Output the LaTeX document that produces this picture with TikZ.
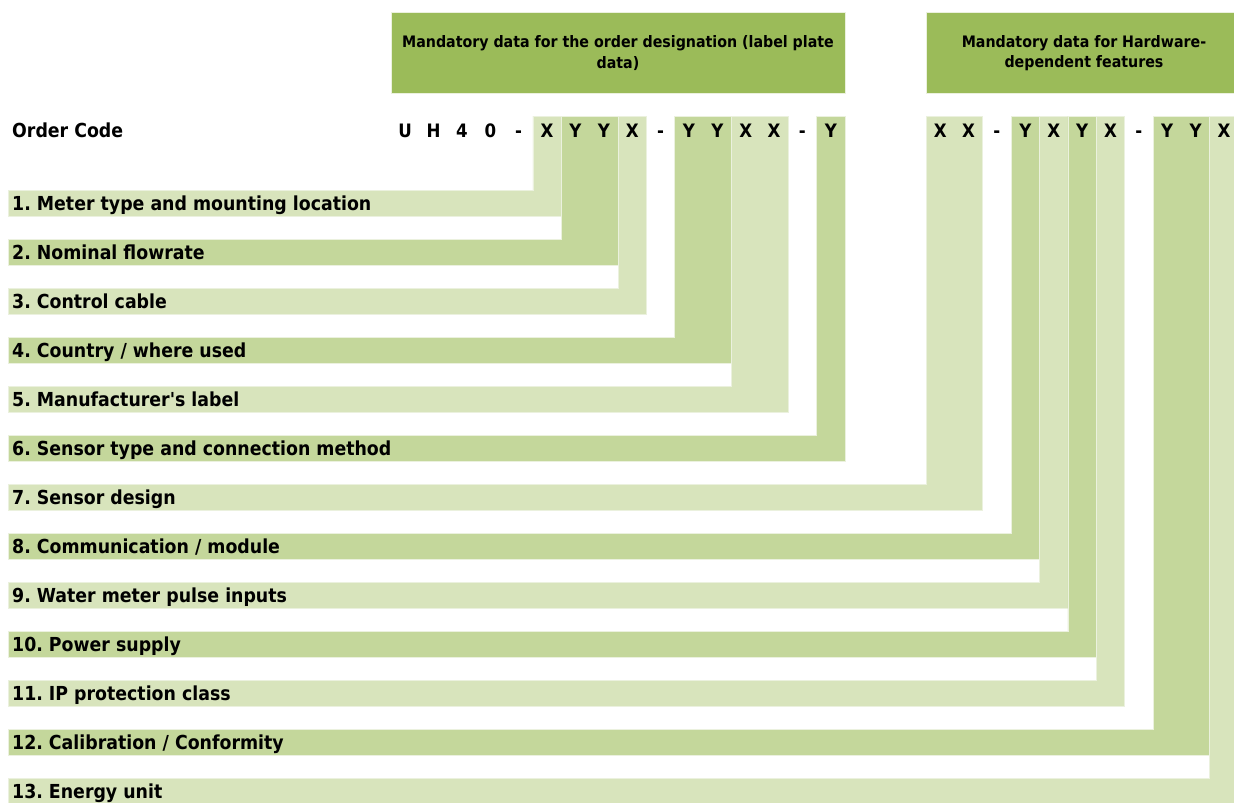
\documentclass[tikz,border=0pt]{standalone}
\usepackage{fontspec}
\setmainfont{DejaVu Sans Condensed}[BoldFont={DejaVu Sans Condensed Bold}]
\definecolor{lightg}{HTML}{D8E4BC}
\definecolor{darkg}{HTML}{C4D79B}
\definecolor{headg}{HTML}{9BBB59}
\definecolor{edgeg}{HTML}{EBF1DE}
\begin{document}
\frenchspacing
\begin{tikzpicture}[x=1pt,y=-1pt,
  lbl/.style={anchor=base west, inner sep=0pt, font=\bfseries\fontsize{19.3}{22}\selectfont},
  chr/.style={anchor=base, inner sep=0pt, font=\bfseries\fontsize{18.5}{22}\selectfont},
  dsh/.style={anchor=base, inner sep=0pt, text=black!60, font=\fontsize{17}{22}\selectfont},
  hdrbox/.style={fill=headg, draw=edgeg, line width=0.8pt},
  hdrtxt/.style={align=center, inner sep=0pt, font=\bfseries\fontsize{15.8}{20.5}\selectfont},
  bar/.style={draw=edgeg, line width=0.8pt}
  ]
\clip (0,0) rectangle (1234,803);
\fill[white] (0,0) rectangle (1234,803);
% header boxes
\draw[hdrbox] (391,12) rectangle (845,93);
\draw[hdrbox] (926,12) rectangle (1242,93);
\node[hdrtxt] (h1) at (618,53) {Mandatory data for the order designation (label plate\\data)};
\node[hdrtxt] (h2) at (1084,53) {Mandatory data for Hardware-\\dependent features};
% L-shaped bars
\foreach \n/\xa/\xb/\col/\txt in {
  1/532.9/561.25/lightg/{1. Meter type and mounting location},
  2/561.25/618/darkg/{2. Nominal flowrate},
  3/618/646.4/lightg/{3. Control cable},
  4/674.75/731.5/darkg/{4. Country / where used},
  5/731.5/788.25/lightg/{5. Manufacturer\textquotesingle s label},
  6/816.6/845/darkg/{6. Sensor type and connection method},
  7/926/982.75/lightg/{7. Sensor design},
  8/1011.1/1039.5/darkg/{8. Communication / module},
  9/1039.5/1067.9/lightg/{9. Water meter pulse inputs},
  10/1067.9/1096.25/darkg/{10. Power supply},
  11/1096.25/1124.6/lightg/{11. IP protection class},
  12/1153/1209.75/darkg/{12. Calibration / Conformity},
  13/1209.75/1240/lightg/{13. Energy unit}} {
  \pgfmathsetmacro\yt{190+49*(\n-1)}
  \pgfmathsetmacro\yb{\yt+26}
  \filldraw[bar, fill=\col] (8,\yt) -- (\xa,\yt) -- (\xa,116) -- (\xb,116) -- (\xb,\yb) -- (8,\yb) -- cycle;
  \node[lbl] (lab\n) at (12,\yt+20) {\txt};
}
% order code
\node[lbl] (oc) at (12,137) {Order Code};
\foreach \ch [count=\k from 0] in {U,H,4,0,-,X,Y,Y,X,-,Y,Y,X,X,-,Y} {
  \ifx\ch-
    \node[dsh] (ca\k) at (391+28.375*\k+14.19,137) {-};
  \else
    \node[chr] (ca\k) at (391+28.375*\k+14.19,137) {\ch};
  \fi
}
\foreach \ch [count=\k from 0] in {X,X,-,Y,X,Y,X,-,Y,Y,X} {
  \ifx\ch-
    \node[dsh] (cb\k) at (926+28.375*\k+14.19,137) {-};
  \else
    \node[chr] (cb\k) at (926+28.375*\k+14.19,137) {\ch};
  \fi
}
\end{tikzpicture}
\end{document}
